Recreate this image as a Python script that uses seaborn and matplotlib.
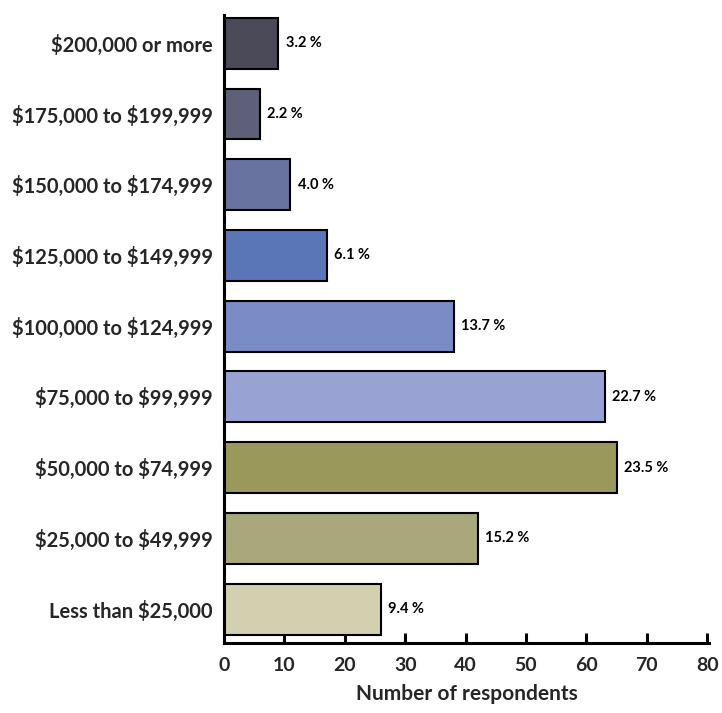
import matplotlib
matplotlib.use("Agg")
import matplotlib.pyplot as plt
import seaborn as sns
import pandas as pd

categories = ["$200,000 or more", "$175,000 to $199,999", "$150,000 to $174,999",
              "$125,000 to $149,999", "$100,000 to $124,999", "$75,000 to $99,999",
              "$50,000 to $74,999", "$25,000 to $49,999", "Less than $25,000"]
counts = [9, 6, 11, 17, 38, 63, 65, 42, 26]
percents = ["3.2 %", "2.2 %", "4.0 %", "6.1 %", "13.7 %", "22.7 %", "23.5 %", "15.2 %", "9.4 %"]
colors = ["#4a4a58", "#5d6078", "#68749f", "#5b76b7", "#7a8cc6", "#98a3d4",
          "#9a985a", "#a8a87a", "#d3d0b0"]
xticks = [0, 10, 20, 30, 40, 50, 60, 70, 80]

sns.set_theme(style="ticks")
plt.rcParams['font.family'] = ['Lato', 'DejaVu Sans']
plt.rcParams['font.weight'] = 'bold'
plt.rcParams['text.parse_math'] = False

df = pd.DataFrame({"cat": categories, "n": counts})

fig = plt.figure(figsize=(7.22, 7.13), dpi=100)
ax = fig.add_axes([224/722, 1-643/713, (709-224)/722, (643-15)/713])
sns.barplot(data=df, y="cat", x="n", hue="cat", palette=colors, legend=False,
            order=categories, orient="h", width=0.72, edgecolor="black",
            linewidth=1.5, saturation=1, ax=ax)

for i, (v, p) in enumerate(zip(counts, percents)):
    ax.text(v + 1.2, i, p, va="center", ha="left", fontsize=10.5, fontweight="bold",
            color="black")

ax.set_xlim(0, 80.3)
ax.set_ylim(8.48, -0.40)
ax.set_xticks(xticks)
ax.set_xticklabels([str(t) for t in xticks], fontsize=14, fontweight="bold")
ax.set_yticks(range(len(categories)))
ax.set_yticklabels(categories, fontsize=14.5, fontweight="bold")
ax.tick_params(axis="x", direction="in", length=7, width=2.2, pad=10, color="black")
ax.tick_params(axis="y", length=0, pad=8)
ax.set_ylabel("")
ax.set_xlabel("Number of respondents", fontsize=15, fontweight="bold", labelpad=7)
sns.despine(ax=ax)
ax.spines["left"].set_linewidth(2.2)
ax.spines["bottom"].set_linewidth(2.2)
ax.spines["left"].set_color("black")
ax.spines["bottom"].set_color("black")

fig.savefig("out.png", dpi=100)
